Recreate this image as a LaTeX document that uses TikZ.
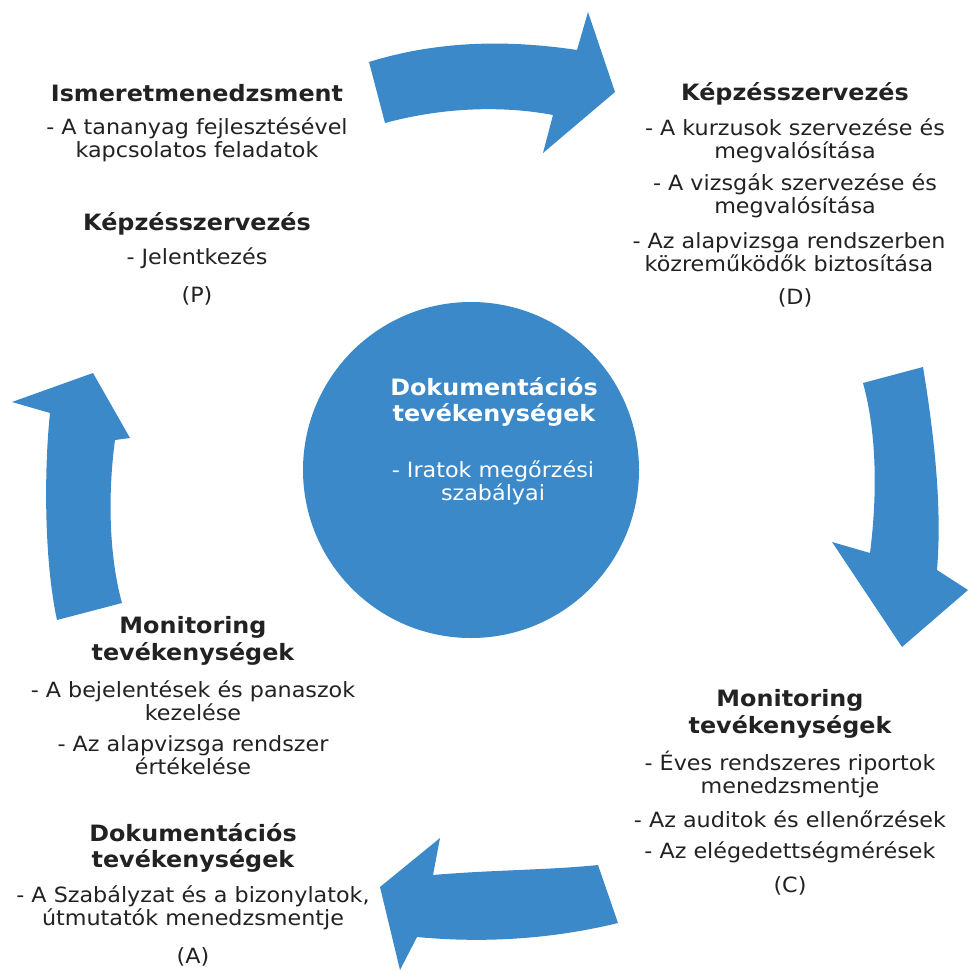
\documentclass[tikz,border=0pt]{standalone}
\usepackage{fontspec}
\setmainfont{DejaVu Sans}[FakeStretch=1.06]
\definecolor{cycblue}{RGB}{59,137,201}
\definecolor{txtgray}{RGB}{34,34,34}
\begin{document}
\begin{tikzpicture}[x=1pt,y=-1pt,
  arrowshape/.style={fill=cycblue,draw=none},
  title/.style={font=\bfseries\fontsize{22.5}{26.5}\selectfont,text=txtgray,align=center,inner sep=0pt,anchor=center},
  item/.style={font=\fontsize{21}{23}\selectfont,text=txtgray,align=center,inner sep=0pt,anchor=center},
  wtitle/.style={title,text=white},
  witem/.style={item,text=white}]
\useasboundingbox[fill=white] (0,0) rectangle (971,973);
% central circle
\node[circle,fill=cycblue,minimum size=336pt,inner sep=0pt] (hub) at (471,470) {};
% arrows
\fill[arrowshape] (369,62) .. controls (440,40) and (510,40) .. (577,50) -- (588,12) -- (615,92) -- (543,153) -- (553,115) .. controls (500,105) and (440,108) .. (385,123) -- cycle;
\fill[arrowshape] (863,383) -- (923,367) .. controls (935,440) and (942,510) .. (937,570) -- (968,590) -- (902,647) -- (832,542) -- (870,553) .. controls (878,490) and (876,430) .. (863,383) -- cycle;
\fill[arrowshape] (598,865) -- (618,923) .. controls (540,942) and (470,942) .. (417,937) -- (400,970) -- (380,887) -- (440,838) -- (433,875) .. controls (490,870) and (550,870) .. (598,865) -- cycle;
\fill[arrowshape] (57,620) .. controls (44,560) and (44,470) .. (50,413) -- (12,402) -- (93,373) -- (130,438) -- (115,440) .. controls (107,500) and (110,560) .. (122,603) -- cycle;
% hub text
\node[wtitle] (hubT) at (494,402) {Dokumentációs\\tevékenységek};
\node[witem] (hubI) at (493,483) {- Iratok megőrzési\\szabályai};
% P block
\node[title] (pT1) at (197,93) {Ismeretmenedzsment};
\node[item] (pI1) at (197,140) {- A tananyag fejlesztésével\\kapcsolatos feladatok};
\node[title] (pT2) at (197,224) {Képzésszervezés};
\node[item] (pI2) at (197,258) {- Jelentkezés};
\node[item] (pL) at (197,296) {(P)};
% D block
\node[title] (dT) at (795,94) {Képzésszervezés};
\node[item] (dI1) at (795,141) {- A kurzusok szervezése és\\megvalósítása};
\node[item] (dI2) at (795,196) {- A vizsgák szervezése és\\megvalósítása};
\node[item] (dI3) at (789,252) {- Az alapvizsga rendszerben\\közreműködők biztosítása};
\node[item] (dL) at (795,298) {(D)};
% C block
\node[title] (cT) at (790,714) {Monitoring\\tevékenységek};
\node[item] (cI1) at (790,774) {- Éves rendszeres riportok\\menedzsmentje};
\node[item] (cI2) at (790,819) {- Az auditok és ellenőrzések};
\node[item] (cI3) at (790,852) {- Az elégedettségmérések};
\node[item] (cL) at (790,886) {(C)};
% A block
\node[title] (aT1) at (193,641) {Monitoring\\tevékenységek};
\node[item] (aI1) at (193,701) {- A bejelentések és panaszok\\kezelése};
\node[item] (aI2) at (193,755) {- Az alapvizsga rendszer\\értékelése};
\node[title] (aT2) at (193,848) {Dokumentációs\\tevékenységek};
\node[item] (aI3) at (193,908) {- A Szabályzat és a bizonylatok,\\útmutatók menedzsmentje};
\node[item] (aL) at (193,957) {(A)};
\end{tikzpicture}
\end{document}
